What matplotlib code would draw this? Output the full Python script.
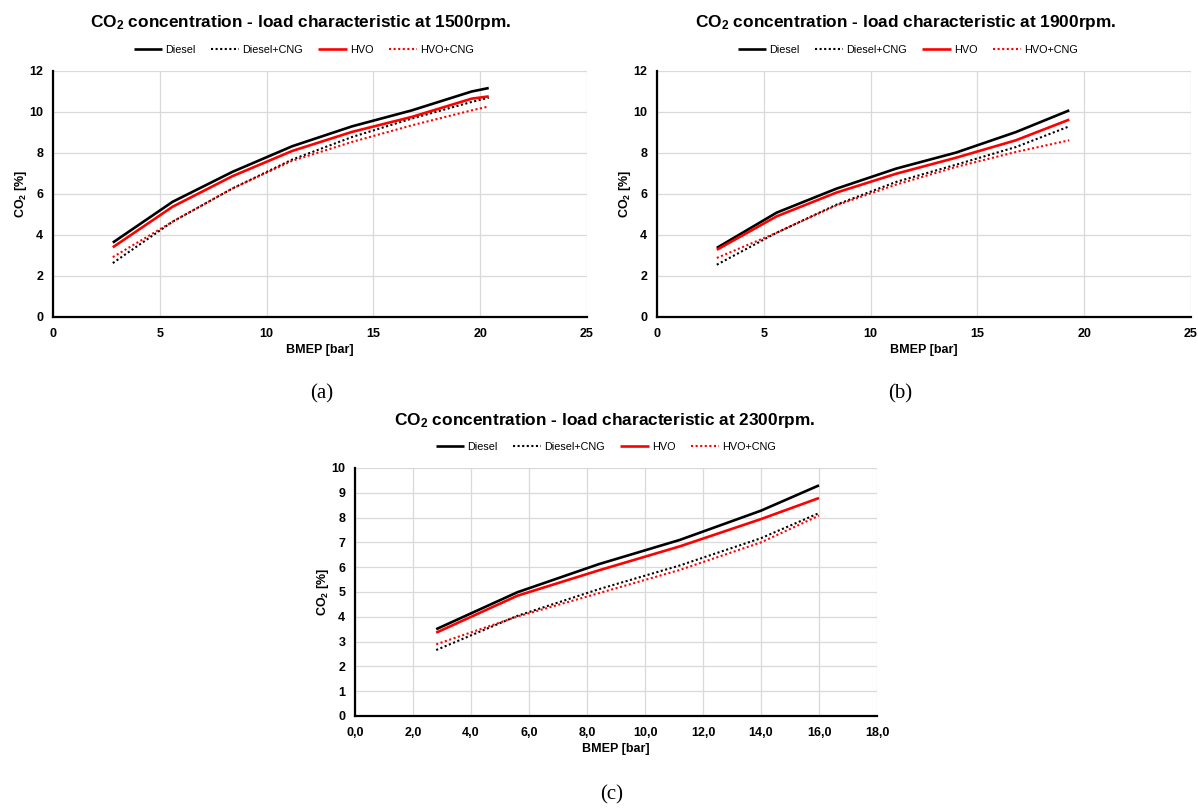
import matplotlib
matplotlib.use("Agg")
import matplotlib.pyplot as plt
from matplotlib.ticker import FuncFormatter, MultipleLocator

plt.rcParams['font.family'] = ['Liberation Sans', 'DejaVu Sans']
plt.rcParams['mathtext.default'] = 'regular'

series = ["Diesel", "Diesel+CNG", "HVO", "HVO+CNG"]

# (a) 1500 rpm
bmep_1500 = [2.8, 5.6, 8.4, 11.2, 14.0, 16.8, 19.6, 20.4]
diesel_1500 = [3.63, 5.62, 7.08, 8.33, 9.30, 10.08, 11.00, 11.17]
dcng_1500 = [2.63, 4.65, 6.27, 7.68, 8.78, 9.68, 10.49, 10.70]
hvo_1500 = [3.40, 5.38, 6.87, 8.10, 9.03, 9.76, 10.65, 10.76]
hcng_1500 = [2.92, 4.65, 6.27, 7.62, 8.54, 9.35, 10.08, 10.27]

# (b) 1900 rpm
bmep_1900 = [2.8, 5.6, 8.4, 11.2, 14.0, 16.8, 19.3]
diesel_1900 = [3.37, 5.09, 6.26, 7.24, 8.02, 9.02, 10.08]
dcng_1900 = [2.55, 4.11, 5.48, 6.59, 7.43, 8.29, 9.30]
hvo_1900 = [3.28, 4.91, 6.07, 6.99, 7.77, 8.62, 9.63]
hcng_1900 = [2.88, 4.11, 5.45, 6.46, 7.32, 8.05, 8.62]

# (c) 2300 rpm
bmep_2300 = [2.8, 5.6, 8.4, 11.2, 14.0, 16.0]
diesel_2300 = [3.50, 4.99, 6.12, 7.10, 8.28, 9.30]
dcng_2300 = [2.66, 4.04, 5.11, 6.07, 7.17, 8.18]
hvo_2300 = [3.36, 4.85, 5.87, 6.84, 7.94, 8.79]
hcng_2300 = [2.89, 4.01, 4.95, 5.89, 7.00, 8.08]

titles = [r"CO$_2$ concentration - load characteristic at 1500rpm.",
          r"CO$_2$ concentration - load characteristic at 1900rpm.",
          r"CO$_2$ concentration - load characteristic at 2300rpm."]
panel_labels = ["(a)", "(b)", "(c)"]

styles = {
    "Diesel": dict(color="black", lw=1.9, ls="-"),
    "Diesel+CNG": dict(color="black", lw=1.5, ls=(0, (1, 1.2))),
    "HVO": dict(color="#ff0000", lw=1.9, ls="-"),
    "HVO+CNG": dict(color="#ff0000", lw=1.5, ls=(0, (1, 1.2))),
}

W, H = 1198, 810
fig = plt.figure(figsize=(W / 100, H / 100), dpi=100)


def frac_box(l, r, t, b):
    return [l / W, 1 - b / H, (r - l) / W, (b - t) / H]


panels = [
    dict(box=frac_box(53, 587, 71, 317), x=bmep_1500,
         ys=[diesel_1500, dcng_1500, hvo_1500, hcng_1500],
         xlim=(0, 25), xstep=5, ylim=(0, 12), ystep=2, comma=False,
         title_xy=(301, 23), leg_xy=(304, 50), lab_xy=(322, 394)),
    dict(box=frac_box(657, 1191, 71, 317), x=bmep_1900,
         ys=[diesel_1900, dcng_1900, hvo_1900, hcng_1900],
         xlim=(0, 25), xstep=5, ylim=(0, 12), ystep=2, comma=False,
         title_xy=(906, 23), leg_xy=(908, 50), lab_xy=(900, 394)),
    dict(box=frac_box(355, 877, 468, 716), x=bmep_2300,
         ys=[diesel_2300, dcng_2300, hvo_2300, hcng_2300],
         xlim=(0, 18), xstep=2, ylim=(0, 10), ystep=1, comma=True,
         title_xy=(605, 421), leg_xy=(606, 447), lab_xy=(612, 795)),
]

for i, p in enumerate(panels):
    ax = fig.add_axes(p["box"])
    handles = []
    for name, yv in zip(series, p["ys"]):
        h, = ax.plot(p["x"], yv, label=name, solid_capstyle="butt",
                     **styles[name])
        handles.append(h)
    ax.set_xlim(*p["xlim"])
    ax.set_ylim(*p["ylim"])
    ax.xaxis.set_major_locator(MultipleLocator(p["xstep"]))
    ax.yaxis.set_major_locator(MultipleLocator(p["ystep"]))
    if p["comma"]:
        ax.xaxis.set_major_formatter(FuncFormatter(lambda v, pos: f"{v:.1f}".replace(".", ",")))
    else:
        ax.xaxis.set_major_formatter(FuncFormatter(lambda v, pos: f"{v:g}"))
    ax.grid(True, color="#d9d9d9", lw=0.9)
    ax.set_axisbelow(True)
    for s in ["top", "right"]:
        ax.spines[s].set_visible(False)
    for s in ["left", "bottom"]:
        ax.spines[s].set_linewidth(1.6)
        ax.spines[s].set_color("black")
    ax.tick_params(length=0, labelsize=9)
    ax.tick_params(axis="x", pad=8)
    ax.tick_params(axis="y", pad=7)
    for lab in ax.get_xticklabels() + ax.get_yticklabels():
        lab.set_fontweight("bold")
    ax.set_xlabel("BMEP [bar]", fontsize=9, fontweight="bold", labelpad=3)
    ax.set_ylabel(r"CO$_2$ [%]", fontsize=9, fontweight="bold", labelpad=0)

    tx, ty = p["title_xy"]
    fig.text(tx / W, 1 - ty / H, titles[i], ha="center", va="center",
             fontsize=12.4, fontweight="bold")
    lx, ly = p["leg_xy"]
    fig.legend(handles=handles, loc="center", bbox_to_anchor=(lx / W, 1 - ly / H),
               ncol=4, frameon=False, fontsize=7.8, handlelength=2.6,
               handletextpad=0.3, columnspacing=1.4, borderaxespad=0)
    px, py = p["lab_xy"]
    fig.text(px / W, 1 - py / H, panel_labels[i], ha="center", va="center",
             fontsize=15, family="Liberation Serif")

fig.savefig("out.png", dpi=100)
